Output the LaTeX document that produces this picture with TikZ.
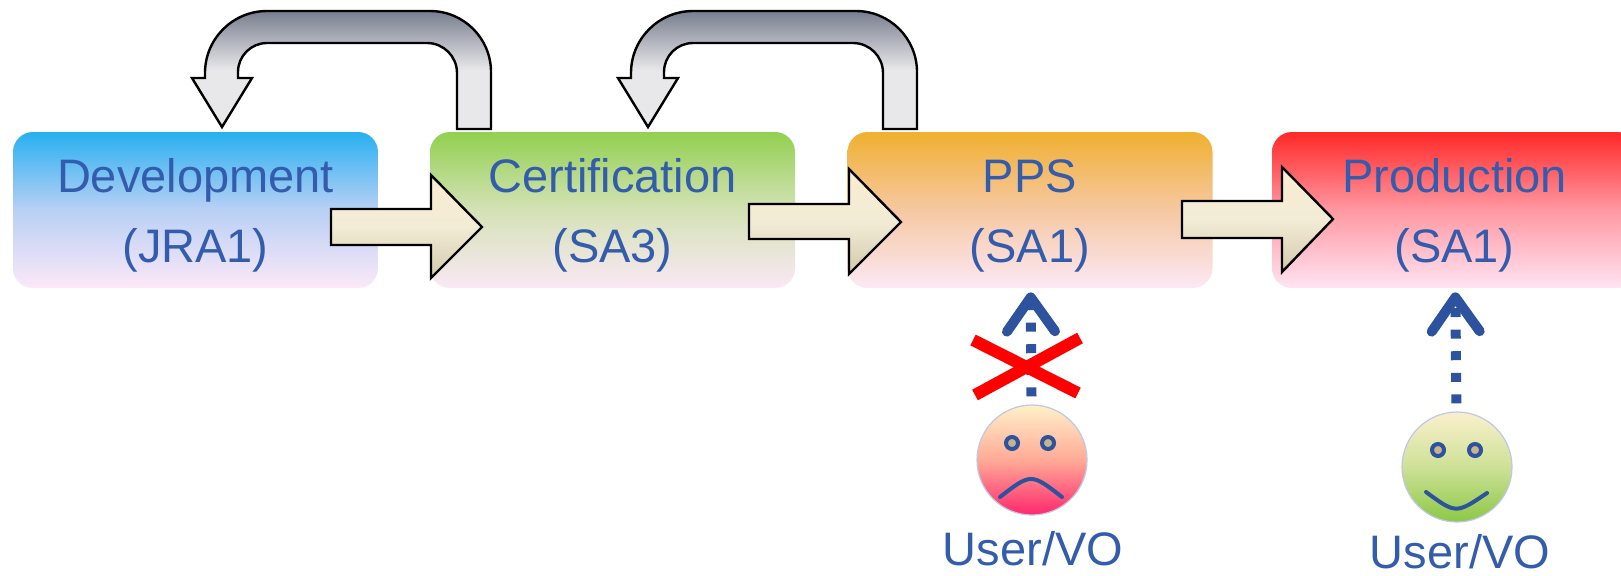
\documentclass[tikz,border=0pt]{standalone}
\usepackage{fontspec}
\setmainfont{Liberation Sans}
\usetikzlibrary{arrows.meta}
\definecolor{labelblue}{RGB}{52,92,172}
\definecolor{userblue}{RGB}{45,82,158}
\definecolor{devtop}{RGB}{40,176,240}
\definecolor{devmid}{RGB}{185,208,245}
\definecolor{devbot}{RGB}{252,232,248}
\definecolor{certtop}{RGB}{146,208,80}
\definecolor{certmid}{RGB}{212,226,182}
\definecolor{certbot}{RGB}{250,232,245}
\definecolor{ppstop}{RGB}{240,176,48}
\definecolor{ppsmid}{RGB}{246,200,162}
\definecolor{ppsbot}{RGB}{252,232,245}
\definecolor{prodtop}{RGB}{255,40,40}
\definecolor{prodmid}{RGB}{255,152,162}
\definecolor{prodbot}{RGB}{255,228,242}
\definecolor{beigetop}{RGB}{250,236,208}
\definecolor{beigemid}{RGB}{242,236,214}
\definecolor{beigebot}{RGB}{212,202,170}
\definecolor{graytop}{RGB}{120,126,142}
\definecolor{graylight}{RGB}{232,232,234}
\definecolor{sadtop}{RGB}{255,240,200}
\definecolor{sadmid}{RGB}{255,170,150}
\definecolor{sadbot}{RGB}{255,40,110}
\definecolor{happytop}{RGB}{250,240,205}
\definecolor{happymid}{RGB}{205,225,150}
\definecolor{happybot}{RGB}{140,200,70}
\definecolor{facerim}{RGB}{190,200,230}
\definecolor{eyefill}{RGB}{200,180,140}
\tikzset{
  stagebox/.style={rectangle, rounded corners=10pt, minimum width=182.5pt, minimum height=78pt,
    inner sep=0pt, align=center, text=labelblue, font=\fontsize{23.5pt}{35pt}\selectfont},
  fwdarrow/.style={draw=black, line width=1.2pt, top color=beigetop, bottom color=beigebot, middle color=beigemid},
  backarrow/.style={draw=black, line width=1.2pt, top color=graytop, bottom color=graylight, middle color=graylight},
  facebox/.style={circle, minimum size=55pt, inner sep=0pt, draw=facerim, line width=0.6pt},
  eyedot/.style={draw=userblue, line width=2pt, fill=eyefill},
  mouthline/.style={draw=userblue, line width=2pt, line cap=round},
  userarrow/.style={draw=userblue, line width=5pt, dash pattern=on 4.5pt off 6.3pt,
    -{Straight Barb[length=17pt, width=24pt, round]}, shorten <=4pt, shorten >=2pt},
  crossline/.style={draw=red, line width=6pt},
  userlabel/.style={text=labelblue, font=\fontsize{23.5pt}{28pt}\selectfont, anchor=base, inner sep=0pt}
}
\begin{document}
\begin{tikzpicture}[x=0.5pt,y=0.5pt]
\useasboundingbox (0,0) rectangle (1621,-575);
% stages
\node[stagebox, top color=devtop, bottom color=devbot, middle color=devmid] (dev) at (195.5,-210) {\rule{0pt}{22pt}Development\\(JRA1)};
\node[stagebox, top color=certtop, bottom color=certbot, middle color=certmid] (cert) at (612.5,-210) {\rule{0pt}{22pt}Certification\\(SA3)};
\node[stagebox, top color=ppstop, bottom color=ppsbot, middle color=ppsmid] (pps) at (1030,-210) {\rule{0pt}{22pt}PPS\\(SA1)};
\node[stagebox, top color=prodtop, bottom color=prodbot, middle color=prodmid] (prod) at (1454.5,-210) {\rule{0pt}{22pt}Production\\(SA1)};
% forward arrows
\draw[fwdarrow] (331,-209) -- (431,-209) -- (431,-175) -- (482,-227) -- (431,-278) -- (431,-245) -- (331,-245) -- cycle;
\draw[fwdarrow] (749,-204) -- (849,-204) -- (849,-169) -- (901,-222) -- (849,-274) -- (849,-239) -- (749,-239) -- cycle;
\draw[fwdarrow] (1182,-201) -- (1282,-201) -- (1282,-167) -- (1333,-219) -- (1282,-272) -- (1282,-238) -- (1182,-238) -- cycle;
% feedback arrows
\draw[backarrow] (491,-129) -- (491,-72) arc[start angle=0,end angle=90,radius=61] -- (267,-11)
  arc[start angle=90,end angle=180,radius=62] -- (205,-78) -- (192,-78) -- (222,-127) -- (252,-78) -- (238,-78)
  -- (238,-72) arc[start angle=180,end angle=90,radius=29] -- (427,-43)
  arc[start angle=90,end angle=0,radius=30] -- (457,-129) -- cycle;
\draw[backarrow] (917,-129) -- (917,-72) arc[start angle=0,end angle=90,radius=61] -- (693,-11)
  arc[start angle=90,end angle=180,radius=62] -- (631,-78) -- (618,-78) -- (648,-127) -- (678,-78) -- (664,-78)
  -- (664,-72) arc[start angle=180,end angle=90,radius=29] -- (853,-43)
  arc[start angle=90,end angle=0,radius=30] -- (883,-129) -- cycle;
% users
\node[facebox, top color=sadtop, bottom color=sadbot, middle color=sadmid] (sad) at (1032,-460) {};
\draw[eyedot] (1012,-443) circle (6);
\draw[eyedot] (1048,-443) circle (6);
\draw[mouthline] (1000,-497) .. controls (1031,-473) .. (1062,-497);
\node[userlabel] (sadlabel) at (1033,-565) {User/VO};
\node[facebox, top color=happytop, bottom color=happybot, middle color=happymid] (happy) at (1457,-467) {};
\draw[eyedot] (1438,-450) circle (6);
\draw[eyedot] (1475,-450) circle (6);
\draw[mouthline] (1426,-492) .. controls (1456,-514) .. (1487,-493);
\node[userlabel] (happylabel) at (1460,-568) {User/VO};
% access
\draw[userarrow] (sad) -- (pps);
\draw[userarrow] (happy) -- (prod);
\draw[crossline] (973,-340) -- (1078,-393);
\draw[crossline] (975,-395) -- (1080,-338);
\end{tikzpicture}
\end{document}
